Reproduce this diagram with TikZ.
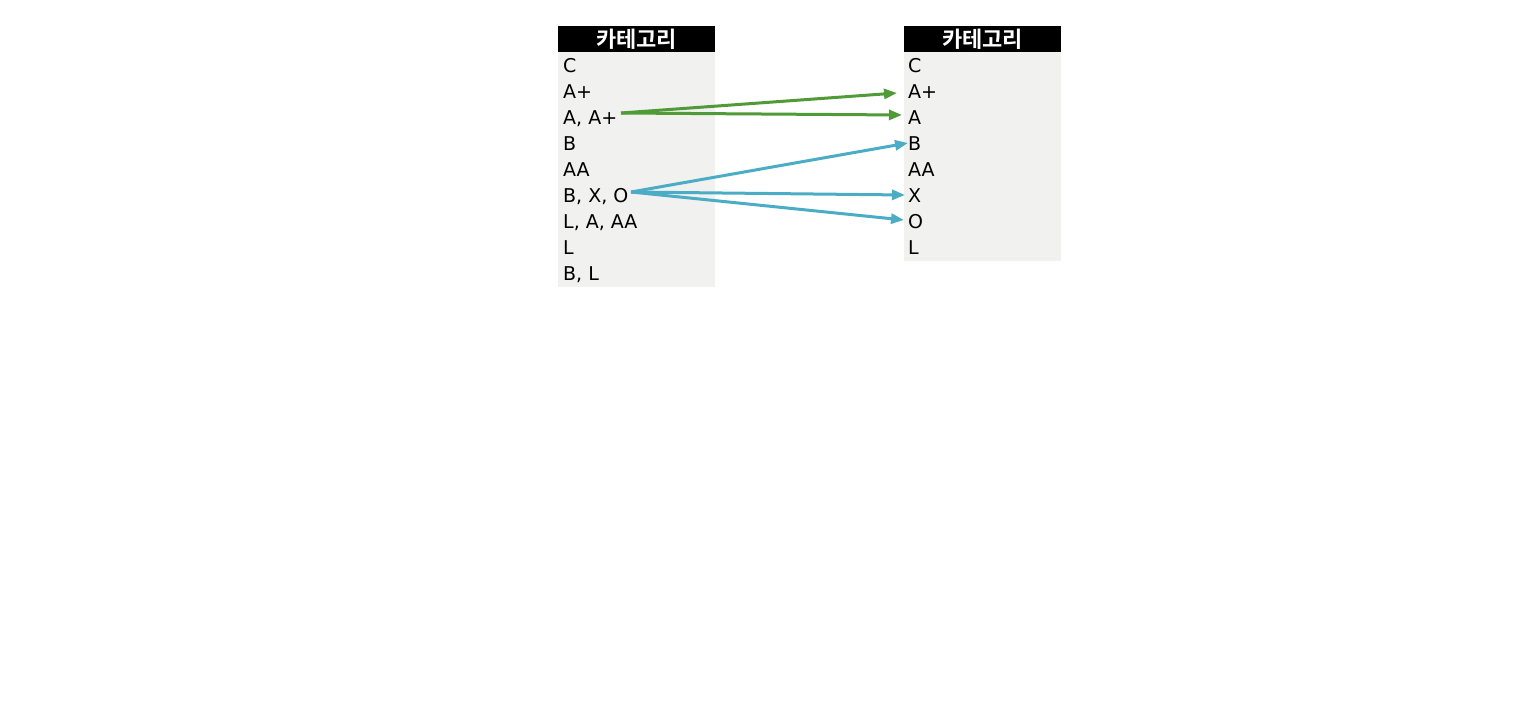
\documentclass[tikz,border=0pt]{standalone}
\usepackage{fontspec}
\setmainfont{DejaVu Sans}
\newfontfamily\krfont{Noto Sans CJK KR}[BoldFont={* Bold}]
\usetikzlibrary{arrows.meta}
\definecolor{cellbg}{HTML}{F1F1F0}
\definecolor{arrgreen}{HTML}{509A38}
\definecolor{arrteal}{HTML}{4BACC6}
\tikzset{
  cell/.style={anchor=base west, inner sep=0pt, font=\fontsize{19}{19}\selectfont, text=black},
  head/.style={font=\krfont\bfseries\fontsize{22}{22}\selectfont, text=white, inner sep=0pt},
  conn/.style={line width=3pt, -{Triangle[length=13pt,width=10pt]}},
}
\begin{document}
\begin{tikzpicture}[x=1pt,y=-1pt]
\useasboundingbox (0,0) rectangle (1520,704);
% left table
\fill[cellbg] (558,52) rectangle (715,287);
\fill[black] (558,26) rectangle (715,52);
\node[head] (lh) at (636.5,39) {카테고리};
\node[cell] (l1) at (563,72) {C};
\node[cell] (l2) at (563,98) {A+};
\node[cell] (l3) at (563,124) {A, A+};
\node[cell] (l4) at (563,150) {B};
\node[cell] (l5) at (563,176) {AA};
\node[cell] (l6) at (563,202) {B, X, O};
\node[cell] (l7) at (563,228) {L, A, AA};
\node[cell] (l8) at (563,254) {L};
\node[cell] (l9) at (563,280) {B, L};
% right table
\fill[cellbg] (904,52) rectangle (1061,261);
\fill[black] (904,26) rectangle (1061,52);
\node[head] (rh) at (982.5,39) {카테고리};
\node[cell] (r1) at (908,72) {C};
\node[cell] (r2) at (908,98) {A+};
\node[cell] (r3) at (908,124) {A};
\node[cell] (r4) at (908,150) {B};
\node[cell] (r5) at (908,176) {AA};
\node[cell] (r6) at (908,202) {X};
\node[cell] (r7) at (908,228) {O};
\node[cell] (r8) at (908,254) {L};
% connectors
\coordinate (gs) at (621,113);
\coordinate (ts) at (631,192);
\draw[conn, arrgreen] (gs) -- ([xshift=-11pt,yshift=5pt]r2.base west);
\draw[conn, arrgreen] (gs) -- ([xshift=-6pt,yshift=9pt]r3.base west);
\draw[conn, arrteal] (ts) -- ([xshift=0pt,yshift=7pt]r4.base west);
\draw[conn, arrteal] (ts) -- ([xshift=-3pt,yshift=7pt]r6.base west);
\draw[conn, arrteal] (ts) -- ([xshift=-4pt,yshift=8pt]r7.base west);
\end{tikzpicture}
\end{document}
